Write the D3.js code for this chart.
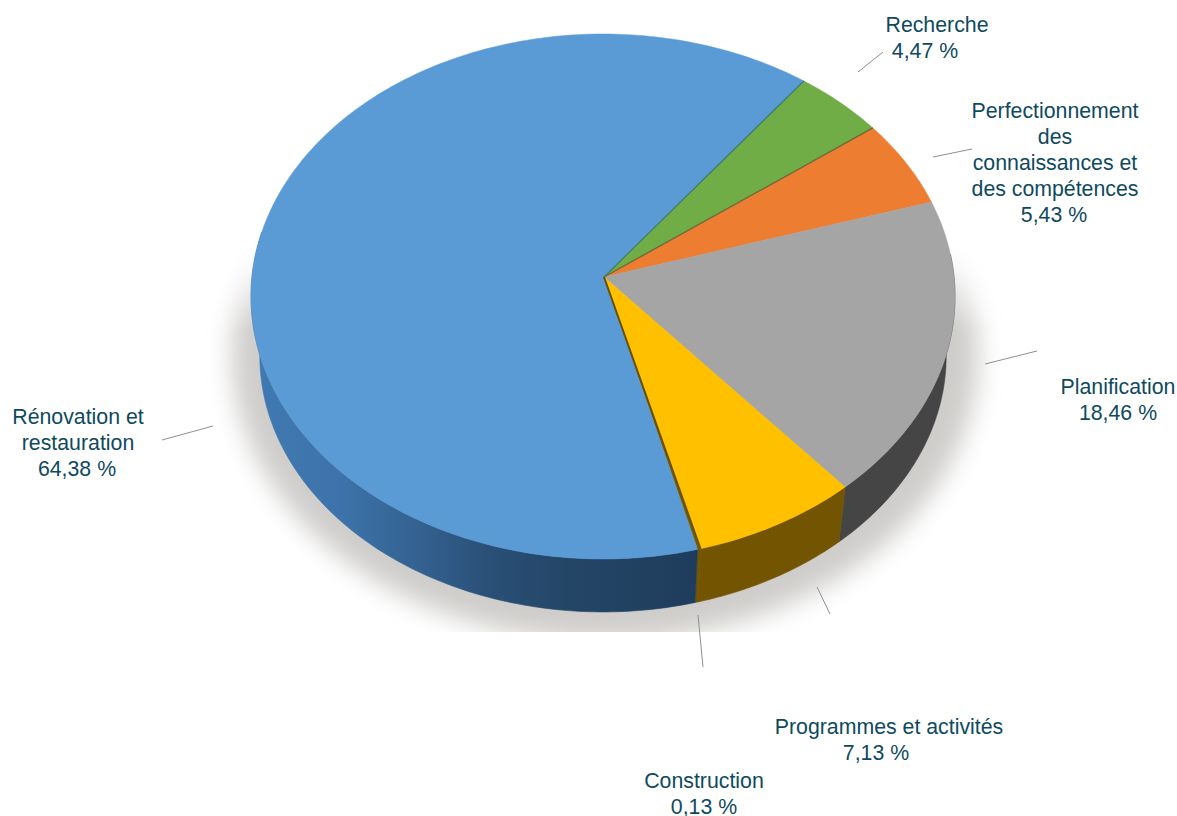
<!DOCTYPE html>
<html><head><meta charset="utf-8">
<script src="https://cdn.jsdelivr.net/npm/d3@7"></script>
<style>html,body{margin:0;padding:0;background:#fff;overflow:hidden}svg{display:block}text{font-family:"Liberation Sans",Arial,sans-serif;font-size:21.3px;fill:#0e4a5e;text-anchor:middle}</style>
</head><body><svg id="c" width="1177" height="816"></svg>
<script>
const categories=["Recherche","Perfectionnement des connaissances et des compétences","Planification","Programmes et activités","Construction","Rénovation et restauration"];
const values=[4.47,5.43,18.46,7.13,0.13,64.38];
const topColors=["#70ad47","#ed7d31","#a5a5a5","#ffc000","#7a5c05","#5b9bd5"];
const sideColors=["#43682b","#8f4b1d","#454545","#735400","#735400","url(#blueSide)"];
const labelLines=[["Recherche"],["Perfectionnement","des","connaissances et","des compétences"],["Planification"],["Programmes et activités"],["Construction"],["Rénovation et","restauration"]];
const valueLabels=["4,47 %","5,43 %","18,46 %","7,13 %","0,13 %","64,38 %"];
const labelPos=[[937,32,925],[1055,118,1054],[1118,394,1118],[889,734,876],[704,788,704],[78,424,77]];
const leaders=[[858,72,883,52],[933,157,972,149],[985,364,1037,351],[817,587,830,614],[698,615,703,667],[162,440,213,426]];

// pie geometry: a tilted disc seen in perspective
const cx=603,cy=296.5,rx=352,ry=262.5,apexY=277,lowCy=356,shrink=0.975,lineH=26;
const e=(cy-apexY)/ry;
const uy=t=>(Math.cos(t)+e)/(1+e*Math.cos(t));
const ux=t=>Math.sin(t)*Math.sqrt(1-e*e)/(1+e*Math.cos(t));
const X=t=>cx+rx*ux(t),Y=t=>cy-ry*uy(t);
const X2=t=>cx+shrink*rx*ux(t),Y2=t=>lowCy-shrink*ry*uy(t);

const svg=d3.select("#c"),defs=svg.append("defs");
const g=defs.append("linearGradient").attr("id","blueSide").attr("gradientUnits","userSpaceOnUse")
 .attr("x1",cx-rx).attr("x2",cx+100).attr("y1",0).attr("y2",0);
[[0,"#4079b2"],[0.2,"#3d73aa"],[0.38,"#33608f"],[0.52,"#2a5078"],[0.7,"#244666"],[1,"#1e3c5c"]].forEach(d=>g.append("stop").attr("offset",d[0]).attr("stop-color",d[1]));
defs.append("filter").attr("id","blur").attr("x","-20%").attr("y","-20%").attr("width","140%").attr("height","140%")
 .append("feGaussianBlur").attr("stdDeviation",12);
defs.append("clipPath").attr("id","floor").append("rect").attr("width",1177).attr("height",632);
const mg=defs.append("linearGradient").attr("id","fadeTop").attr("gradientUnits","userSpaceOnUse").attr("x1",0).attr("x2",0).attr("y1",245).attr("y2",330);
mg.append("stop").attr("offset",0).attr("stop-color","#000");
mg.append("stop").attr("offset",1).attr("stop-color","#fff");
defs.append("mask").attr("id","fadeMask").attr("maskUnits","userSpaceOnUse").attr("x",0).attr("y",0).attr("width",1177).attr("height",816)
 .append("rect").attr("width",1177).attr("height",816).attr("fill","url(#fadeTop)");

// floor shadow
svg.append("g").attr("clip-path","url(#floor)").append("g").attr("mask","url(#fadeMask)").append("ellipse")
 .attr("cx",605).attr("cy",356).attr("rx",373).attr("ry",285).attr("fill","#cfcdcb").attr("filter","url(#blur)");

const deg=Math.PI/180;
const pie=d3.pie().sort(null).startAngle(37.3*deg).endAngle((37.3+360)*deg);
const arcs=pie(values);
const line=d3.line();
const sweep=(s,q)=>{const n=Math.max(2,Math.ceil((q-s)/deg));return d3.range(n+1).map(k=>s+(q-s)*k/n);};

// side wall: only the front of the rim
const sides=svg.append("g");
arcs.forEach((a,i)=>{
  const s=Math.max(a.startAngle,85*deg),q=Math.min(a.endAngle,280*deg);
  if(q<=s) return;
  const ang=sweep(s,q);
  const pts=ang.map(t=>[X(t),Y(t)]).concat(ang.slice().reverse().map(t=>[X2(t),Y2(t)]));
  sides.append("path").attr("d",line(pts)+"Z").attr("fill",sideColors[i]).attr("stroke",sideColors[i]).attr("stroke-width",0.6);
});

// top face
svg.append("g").selectAll("path").data(arcs).join("path")
 .attr("d",a=>line([[cx+1,apexY]].concat(sweep(a.startAngle,a.endAngle).map(t=>[X(t),Y(t)])))+"Z")
 .attr("fill",(d,i)=>topColors[i]).attr("stroke",(d,i)=>topColors[i]).attr("stroke-width",0.5);

// slice joints
const jointColors=["#3f7f70","#6a6a3a",null,null,"#6b5008",null];
arcs.forEach((a,i)=>{
  if(!jointColors[i]) return;
  svg.append("line").attr("x1",cx+1).attr("y1",apexY).attr("x2",X(a.startAngle)).attr("y2",Y(a.startAngle))
   .attr("stroke",jointColors[i]).attr("stroke-width",i===4?2:1.3);
});

// leader lines
svg.append("g").selectAll("line").data(leaders).join("line")
 .attr("x1",d=>d[0]).attr("y1",d=>d[1]).attr("x2",d=>d[2]).attr("y2",d=>d[3])
 .attr("stroke","#8f8f8f").attr("stroke-width",1);

// labels
labelLines.forEach((lines,i)=>{
  const [x,y,vx]=labelPos[i];
  lines.forEach((t,k)=>svg.append("text").attr("x",x).attr("y",y+k*lineH).text(t));
  svg.append("text").attr("x",vx).attr("y",y+lines.length*lineH).text(valueLabels[i]);
});
</script></body></html>
